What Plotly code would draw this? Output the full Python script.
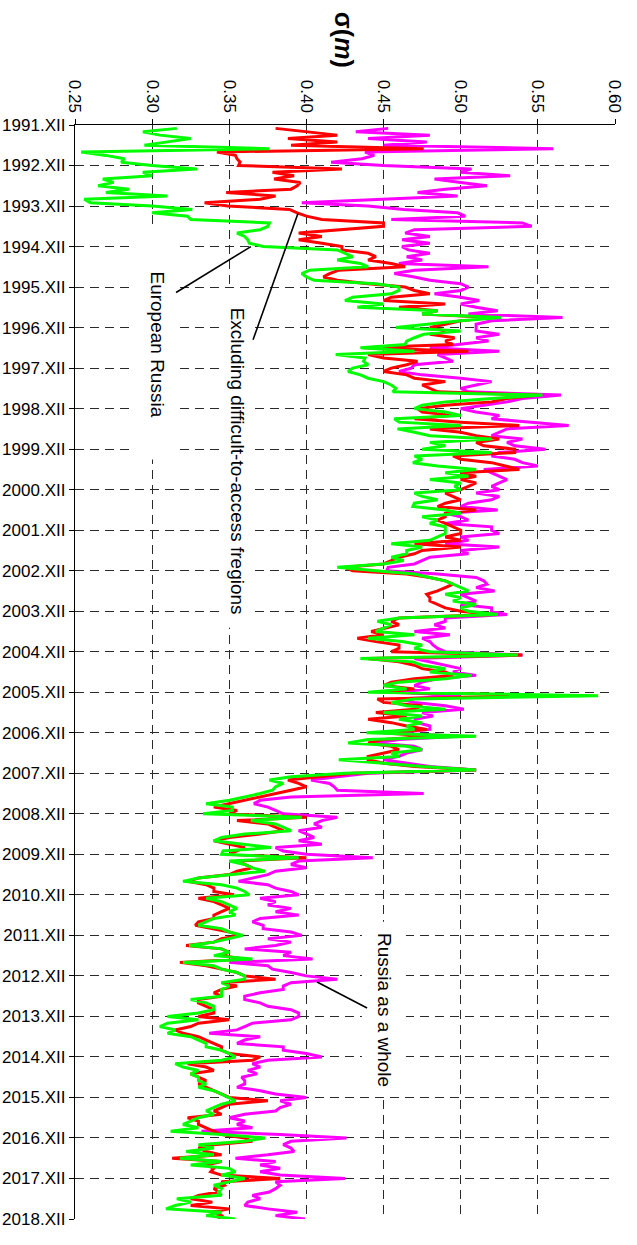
import plotly.graph_objects as go

# ---------------- data ----------------
x_ticks = [0.25, 0.30, 0.35, 0.40, 0.45, 0.50, 0.55, 0.60]
year_ticks = [0, 12, 24, 36, 48, 60, 72, 84, 96, 108, 120, 132, 144, 156,
              168, 180, 192, 204, 216, 228, 240, 252, 264, 276, 288, 300, 312, 324]
year_labels = ["1991.XII", "1992.XII", "1993.XII", "1994.XII", "1995.XII", "1996.XII",
               "1997.XII", "1998.XII", "1999.XII", "2000.XII", "2001.XII", "2002.XII",
               "2003.XII", "2004.XII", "2005.XII", "2006.XII", "2007.XII", "2008.XII",
               "2009.XII", "2010.XII", "2011.XII", "2012.XII", "2013.XII", "2014.XII",
               "2015.XII", "2016.XII", "2017.XII", "2018.XII"]
# months counted from 1991.XII (1 = 1992.I ... 324 = 2018.XII)
months = list(range(1, 325))

russia_whole = [
    0.453, 0.432, 0.480, 0.440, 0.478, 0.450, 0.560, 0.438, 0.444, 0.436, 0.416, 0.450,  # 1992
    0.507, 0.500, 0.532, 0.483, 0.500, 0.517, 0.490, 0.472, 0.498, 0.450, 0.397, 0.440,  # 1993
    0.463, 0.498, 0.503, 0.455, 0.540, 0.546, 0.470, 0.464, 0.480, 0.462, 0.480, 0.462,  # 1994
    0.466, 0.480, 0.465, 0.475, 0.460, 0.518, 0.470, 0.457, 0.470, 0.480, 0.500, 0.505,  # 1995
    0.500, 0.483, 0.500, 0.512, 0.500, 0.510, 0.524, 0.505, 0.566, 0.520, 0.510, 0.510,  # 1996
    0.510, 0.525, 0.510, 0.518, 0.500, 0.480, 0.525, 0.485, 0.490, 0.495, 0.470, 0.468,  # 1997
    0.460, 0.475, 0.500, 0.520, 0.510, 0.500, 0.505, 0.565, 0.540, 0.530, 0.515, 0.500,  # 1998
    0.510, 0.525, 0.520, 0.545, 0.570, 0.530, 0.525, 0.520, 0.540, 0.530, 0.535, 0.555,  # 1999
    0.525, 0.520, 0.535, 0.540, 0.550, 0.515, 0.520, 0.525, 0.530, 0.525, 0.520, 0.525,  # 2000
    0.510, 0.525, 0.520, 0.505, 0.500, 0.524, 0.490, 0.500, 0.505, 0.490, 0.520, 0.520,  # 2001
    0.525, 0.500, 0.505, 0.490, 0.525, 0.500, 0.505, 0.480, 0.475, 0.470, 0.453, 0.452,  # 2002
    0.485, 0.510, 0.515, 0.517, 0.510, 0.522, 0.500, 0.505, 0.510, 0.500, 0.520, 0.520,  # 2003
    0.530, 0.490, 0.490, 0.483, 0.490, 0.470, 0.493, 0.475, 0.480, 0.482, 0.485, 0.490,  # 2004
    0.540, 0.470, 0.480, 0.490, 0.500, 0.495, 0.510, 0.485, 0.475, 0.470, 0.480, 0.460,  # 2005
    0.500, 0.460, 0.470, 0.490, 0.502, 0.475, 0.482, 0.470, 0.472, 0.480, 0.480, 0.455,  # 2006
    0.500, 0.460, 0.445, 0.470, 0.475, 0.465, 0.460, 0.450, 0.465, 0.480, 0.510, 0.440,  # 2007
    0.420, 0.403, 0.415, 0.418, 0.420, 0.476, 0.390, 0.370, 0.366, 0.375, 0.380, 0.385,  # 2008
    0.420, 0.410, 0.405, 0.410, 0.395, 0.400, 0.405, 0.395, 0.410, 0.380, 0.385, 0.400,  # 2009
    0.443, 0.395, 0.390, 0.400, 0.380, 0.375, 0.365, 0.356, 0.375, 0.380, 0.390, 0.395,  # 2010
    0.370, 0.380, 0.375, 0.390, 0.380, 0.395, 0.370, 0.365, 0.372, 0.372, 0.390, 0.397,  # 2011
    0.375, 0.390, 0.380, 0.360, 0.390, 0.385, 0.404, 0.350, 0.375, 0.378, 0.390, 0.400,  # 2012
    0.420, 0.390, 0.385, 0.385, 0.370, 0.360, 0.360, 0.370, 0.375, 0.390, 0.395, 0.395,  # 2013
    0.390, 0.365, 0.360, 0.355, 0.337, 0.370, 0.360, 0.355, 0.385, 0.385, 0.400, 0.410,  # 2014
    0.375, 0.365, 0.370, 0.362, 0.368, 0.358, 0.360, 0.360, 0.355, 0.370, 0.380, 0.400,  # 2015
    0.383, 0.390, 0.383, 0.380, 0.360, 0.350, 0.360, 0.355, 0.365, 0.332, 0.383, 0.426,  # 2016
    0.390, 0.385, 0.390, 0.392, 0.375, 0.354, 0.380, 0.370, 0.383, 0.370, 0.383, 0.425,  # 2017
    0.380, 0.383, 0.380, 0.376, 0.365, 0.370, 0.362, 0.360, 0.375, 0.394, 0.380, 0.399,  # 2018
]

excluding_difficult = [
    0.380, 0.400, 0.420, 0.388, 0.420, 0.390, 0.476, 0.342, 0.354, 0.355, 0.357, 0.356,  # 1992
    0.423, 0.378, 0.392, 0.379, 0.396, 0.394, 0.390, 0.348, 0.380, 0.370, 0.334, 0.349,  # 1993
    0.389, 0.394, 0.400, 0.410, 0.450, 0.450, 0.420, 0.395, 0.410, 0.395, 0.410, 0.423,  # 1994
    0.423, 0.440, 0.445, 0.440, 0.455, 0.464, 0.421, 0.415, 0.411, 0.420, 0.440, 0.464,  # 1995
    0.470, 0.480, 0.455, 0.450, 0.490, 0.460, 0.485, 0.475, 0.520, 0.500, 0.490, 0.480,  # 1996
    0.490, 0.480, 0.496, 0.490, 0.495, 0.437, 0.505, 0.440, 0.450, 0.472, 0.465, 0.455,  # 1997
    0.450, 0.465, 0.470, 0.490, 0.475, 0.480, 0.485, 0.550, 0.530, 0.520, 0.490, 0.472,  # 1998
    0.475, 0.495, 0.470, 0.500, 0.538, 0.480, 0.500, 0.510, 0.525, 0.510, 0.515, 0.535,  # 1999
    0.535, 0.495, 0.500, 0.520, 0.530, 0.538, 0.500, 0.510, 0.500, 0.510, 0.505, 0.500,  # 2000
    0.490, 0.495, 0.500, 0.490, 0.485, 0.510, 0.490, 0.490, 0.485, 0.490, 0.495, 0.500,  # 2001
    0.500, 0.490, 0.500, 0.470, 0.500, 0.475, 0.470, 0.460, 0.455, 0.450, 0.425, 0.430,  # 2002
    0.465, 0.480, 0.490, 0.495, 0.490, 0.485, 0.478, 0.480, 0.480, 0.485, 0.490, 0.500,  # 2003
    0.520, 0.460, 0.455, 0.460, 0.450, 0.442, 0.450, 0.433, 0.445, 0.460, 0.460, 0.455,  # 2004
    0.540, 0.440, 0.460, 0.470, 0.475, 0.490, 0.495, 0.470, 0.455, 0.450, 0.470, 0.450,  # 2005
    0.560, 0.446, 0.450, 0.475, 0.470, 0.445, 0.465, 0.440, 0.455, 0.465, 0.478, 0.450,  # 2006
    0.480, 0.450, 0.440, 0.455, 0.460, 0.450, 0.440, 0.440, 0.450, 0.470, 0.510, 0.430,  # 2007
    0.410, 0.388, 0.395, 0.400, 0.390, 0.380, 0.370, 0.360, 0.350, 0.340, 0.355, 0.350,  # 2008
    0.400, 0.355, 0.375, 0.380, 0.385, 0.370, 0.350, 0.340, 0.350, 0.360, 0.355, 0.350,  # 2009
    0.400, 0.355, 0.360, 0.365, 0.355, 0.350, 0.330, 0.323, 0.335, 0.340, 0.340, 0.353,  # 2010
    0.330, 0.340, 0.345, 0.350, 0.345, 0.340, 0.340, 0.330, 0.328, 0.340, 0.350, 0.357,  # 2011
    0.345, 0.340, 0.322, 0.345, 0.350, 0.345, 0.360, 0.318, 0.335, 0.345, 0.355, 0.360,  # 2012
    0.380, 0.345, 0.355, 0.345, 0.340, 0.345, 0.330, 0.330, 0.335, 0.340, 0.340, 0.330,  # 2013
    0.350, 0.330, 0.325, 0.315, 0.320, 0.330, 0.335, 0.340, 0.345, 0.345, 0.350, 0.370,  # 2014
    0.365, 0.323, 0.335, 0.340, 0.325, 0.330, 0.335, 0.330, 0.335, 0.340, 0.345, 0.350,  # 2015
    0.375, 0.350, 0.345, 0.340, 0.345, 0.323, 0.330, 0.330, 0.335, 0.340, 0.345, 0.360,  # 2016
    0.365, 0.340, 0.330, 0.335, 0.345, 0.313, 0.345, 0.335, 0.340, 0.338, 0.345, 0.383,  # 2017
    0.345, 0.347, 0.340, 0.343, 0.330, 0.325, 0.339, 0.325, 0.350, 0.338, 0.345, 0.343,  # 2018
]

european_russia = [
    0.316, 0.294, 0.305, 0.325, 0.310, 0.295, 0.376, 0.254, 0.270, 0.282, 0.280, 0.300,  # 1992
    0.329, 0.294, 0.300, 0.268, 0.275, 0.265, 0.285, 0.270, 0.310, 0.256, 0.260, 0.300,  # 1993
    0.326, 0.300, 0.323, 0.325, 0.376, 0.375, 0.370, 0.355, 0.360, 0.362, 0.363, 0.372,  # 1994
    0.420, 0.425, 0.430, 0.420, 0.435, 0.440, 0.402, 0.397, 0.400, 0.405, 0.445, 0.460,  # 1995
    0.460, 0.455, 0.430, 0.425, 0.450, 0.433, 0.485, 0.475, 0.526, 0.500, 0.480, 0.458,  # 1996
    0.500, 0.476, 0.470, 0.465, 0.464, 0.435, 0.470, 0.419, 0.438, 0.437, 0.440, 0.430,  # 1997
    0.427, 0.435, 0.440, 0.450, 0.455, 0.458, 0.456, 0.553, 0.520, 0.490, 0.475, 0.470,  # 1998
    0.490, 0.500, 0.457, 0.460, 0.500, 0.459, 0.470, 0.480, 0.520, 0.480, 0.490, 0.475,  # 1999
    0.520, 0.470, 0.475, 0.469, 0.485, 0.510, 0.490, 0.505, 0.480, 0.500, 0.496, 0.500,  # 2000
    0.470, 0.475, 0.485, 0.470, 0.469, 0.490, 0.500, 0.475, 0.485, 0.480, 0.490, 0.490,  # 2001
    0.490, 0.485, 0.480, 0.455, 0.475, 0.465, 0.465, 0.455, 0.463, 0.450, 0.420, 0.445,  # 2002
    0.470, 0.480, 0.490, 0.495, 0.500, 0.505, 0.490, 0.500, 0.495, 0.510, 0.500, 0.505,  # 2003
    0.524, 0.460, 0.446, 0.455, 0.450, 0.445, 0.470, 0.440, 0.462, 0.475, 0.470, 0.480,  # 2004
    0.537, 0.435, 0.469, 0.475, 0.490, 0.480, 0.507, 0.490, 0.460, 0.450, 0.465, 0.440,  # 2005
    0.589, 0.470, 0.455, 0.465, 0.490, 0.450, 0.475, 0.460, 0.475, 0.465, 0.470, 0.439,  # 2006
    0.510, 0.440, 0.427, 0.465, 0.475, 0.455, 0.460, 0.421, 0.450, 0.475, 0.510, 0.425,  # 2007
    0.390, 0.376, 0.385, 0.380, 0.378, 0.370, 0.360, 0.350, 0.335, 0.352, 0.352, 0.333,  # 2008
    0.397, 0.364, 0.380, 0.385, 0.390, 0.360, 0.345, 0.340, 0.360, 0.377, 0.346, 0.345,  # 2009
    0.395, 0.350, 0.360, 0.365, 0.373, 0.350, 0.330, 0.320, 0.345, 0.355, 0.360, 0.363,  # 2010
    0.335, 0.345, 0.350, 0.355, 0.350, 0.354, 0.340, 0.335, 0.330, 0.345, 0.350, 0.359,  # 2011
    0.350, 0.340, 0.324, 0.345, 0.350, 0.340, 0.365, 0.320, 0.340, 0.345, 0.355, 0.360,  # 2012
    0.360, 0.345, 0.350, 0.345, 0.345, 0.345, 0.325, 0.335, 0.340, 0.340, 0.330, 0.310,  # 2013
    0.330, 0.310, 0.305, 0.315, 0.310, 0.325, 0.330, 0.335, 0.335, 0.345, 0.350, 0.354,  # 2014
    0.345, 0.315, 0.320, 0.330, 0.325, 0.330, 0.330, 0.335, 0.330, 0.340, 0.345, 0.350,  # 2015
    0.354, 0.345, 0.340, 0.335, 0.340, 0.330, 0.325, 0.320, 0.330, 0.312, 0.345, 0.373,  # 2016
    0.360, 0.330, 0.340, 0.322, 0.340, 0.318, 0.345, 0.325, 0.350, 0.354, 0.345, 0.360,  # 2017
    0.350, 0.340, 0.345, 0.343, 0.345, 0.316, 0.325, 0.315, 0.309, 0.345, 0.335, 0.354,  # 2018
]

# ---------------- figure ----------------
FONT = "Liberation Sans, Arial, Helvetica, sans-serif"
fig = go.Figure()

for name, vals, color in [("Russia as a whole", russia_whole, "#FF00FF"),
                          ("Excluding difficult-to-access regions", excluding_difficult, "#FF0000"),
                          ("European Russia", european_russia, "#00FF00")]:
    fig.add_trace(go.Scatter(x=vals, y=months, mode="lines", name=name,
                             line=dict(color=color, width=3), showlegend=False))

grid_kw = dict(showgrid=True, gridcolor="#2a2a2a", gridwidth=1.3, griddash="9px,6px",
               zeroline=False, showline=True, linecolor="black", linewidth=1.3,
               ticks="outside", ticklen=5, tickcolor="black", tickwidth=1.2,
               automargin=False)

fig.update_layout(
    width=637, height=1245,
    margin=dict(l=75, r=22, t=125, b=26),
    paper_bgcolor="white", plot_bgcolor="white",
    font=dict(family=FONT, size=17, color="black"),
    xaxis=dict(side="top", range=[0.25, 0.60], tickvals=x_ticks, tickformat=".2f",
               tickangle=90, tickfont=dict(size=17), **grid_kw),
    yaxis=dict(range=[324, 0], tickvals=year_ticks, ticktext=year_labels,
               tickfont=dict(size=17), **grid_kw),
)

# white boxes behind the labels (they interrupt the grid)
boxes = [(0.2889, 0.3168, 30.4, 99.1),
         (0.3440, 0.3640, 48.7, 148.9),
         (0.4360, 0.4645, 236.0, 287.5)]
for x0, x1, y0, y1 in boxes:
    fig.add_shape(type="rect", xref="x", yref="y", x0=x0, x1=x1, y0=y0, y1=y1,
                  fillcolor="white", line=dict(width=0), layer="above")

# pointer lines
pointers = [(0.3155, 49.6, 0.3640, 36.0),
            (0.3654, 63.6, 0.3945, 26.2),
            (0.4393, 261.5, 0.4069, 253.8)]
for x0, y0, x1, y1 in pointers:
    fig.add_shape(type="line", xref="x", yref="y", x0=x0, y0=y0, x1=x1, y1=y1,
                  line=dict(color="black", width=1.6), layer="above")

labels = [("European Russia", 0.3038, 65.0),
          ("Excluding difficult-to-access fregions", 0.3550, 99.4),
          ("Russia as a whole", 0.4503, 262.1)]
for txt, x, y in labels:
    fig.add_annotation(text=txt, x=x, y=y, xref="x", yref="y", showarrow=False,
                       textangle=90, xanchor="center", yanchor="middle",
                       font=dict(family=FONT, size=19, color="black"))

# axis title
fig.add_annotation(text="<b>σ(<i>m</i>)</b>", x=0.498, y=1.078, xref="paper", yref="paper",
                   showarrow=False, textangle=90, xanchor="center", yanchor="middle",
                   font=dict(family=FONT, size=25, color="black"))

fig.write_html("out.html", config={"displayModeBar": False},
               post_script="document.body.style.margin='0';document.body.style.padding='0';")
